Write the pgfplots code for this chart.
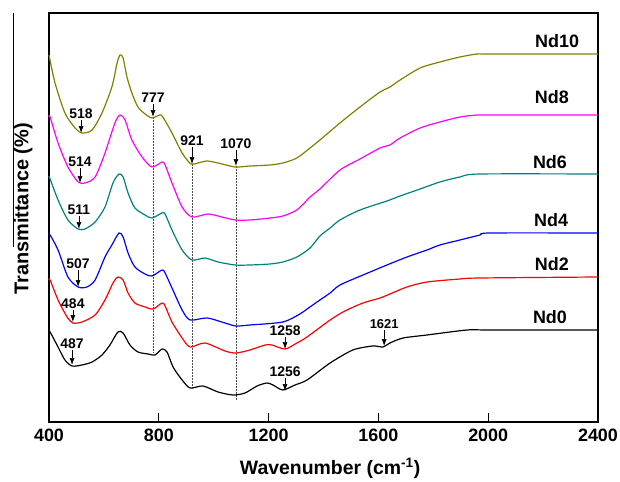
\documentclass[border=0pt]{standalone}
\usepackage{fontspec}
\setmainfont{Liberation Sans}
\usepackage{pgfplots}
\pgfplotsset{compat=1.18}
\usetikzlibrary{arrows.meta}
\definecolor{cNd10}{HTML}{808000}
\definecolor{cNd8}{HTML}{FF00FF}
\definecolor{cNd6}{HTML}{008080}
\definecolor{cNd4}{HTML}{0000FF}
\definecolor{cNd2}{HTML}{FF0000}
\definecolor{cNd0}{HTML}{000000}
\tikzset{
  pk/.style={-{Latex[length=7pt,width=5pt]},line width=0.7pt},
  pklab/.style={font=\fontsize{14}{15}\selectfont\bfseries,anchor=south,inner sep=1pt},
  guide/.style={densely dotted,black!70,line width=0.5pt},
  ndlab/.style={font=\fontsize{18}{20}\selectfont\bfseries,anchor=center},
}
\begin{document}
\begin{tikzpicture}
\begin{axis}[
  scale only axis,width=549bp,height=409bp,
  xmin=400,xmax=2400,ymin=0,ymax=409,
  xtick={400,800,1200,1600,2000,2400},
  xtick pos=left,tick align=inside,
  major tick length=9bp,
  ytick=\empty,
  axis line style={line width=1.3pt},
  every tick/.style={black,line width=1.2pt},
  /pgf/number format/assume math mode=true,
  /pgf/number format/set thousands separator={},
  xticklabel style={font=\fontsize{18}{20}\selectfont\bfseries,yshift=-3bp},
  xlabel={Wavenumber (cm\textsuperscript{-1})},
  ylabel={Transmittance (\%)},
  xlabel style={font=\fontsize{19.5}{22}\selectfont\bfseries,at={(axis description cs:0.512,-0.113)},anchor=center},
  ylabel style={font=\fontsize{20}{22}\selectfont\bfseries,at={(axis description cs:-0.047,0.521)},anchor=center},
  clip=false,
  every axis plot/.append style={line width=1.2pt,smooth,tension=0.45},
]
% dotted guides
\draw[guide] (axis cs:779,305) -- (axis cs:779,70);
\draw[guide] (axis cs:921,258) -- (axis cs:921,35);
\draw[guide] (axis cs:1081,256) -- (axis cs:1081,22);

\addplot[cNd0] coordinates {(400,90)(404,90)(433,75)(458,62)(484,56)(520,57)(557,60)(593,67)(622,77)(651,90)(670,89)(695,77)(724,70)(761,68)(786,67)(812,73)(830,70)(852,55)(885,42)(914,34)(961,36)(1016,30)(1070,27)(1114,29)(1158,36)(1194,39)(1216,37)(1252,32)(1296,37)(1340,42)(1424,59)(1507,72)(1580,76)(1617,75)(1642,79)(1690,84)(1777,87)(1923,92)(2007,92)(2400,92)};
\addplot[cNd2] coordinates {(400,142)(404,142)(433,122)(466,105)(487,99)(520,100)(568,107)(604,122)(633,139)(651,145)(670,142)(688,129)(713,119)(750,115)(779,113)(812,119)(823,116)(848,100)(885,84)(914,75)(968,79)(1041,71)(1081,69)(1132,72)(1187,77)(1212,77)(1260,73)(1303,79)(1340,85)(1424,102)(1478,111)(1544,119)(1606,124)(1642,128)(1704,135)(1777,140)(1897,143)(1970,144)(2400,145)};
\addplot[cNd4] coordinates {(400,187)(404,187)(433,172)(469,145)(506,135)(538,135)(568,142)(604,165)(629,177)(655,189)(670,185)(688,169)(713,155)(750,148)(775,146)(812,152)(823,149)(848,134)(885,112)(914,102)(976,104)(1041,99)(1081,96)(1132,97)(1252,100)(1314,108)(1340,113)(1387,122)(1424,129)(1460,137)(1544,147)(1631,157)(1704,165)(1777,172)(1824,177)(1897,182)(1970,187)(2007,189)(2400,189)};
\addplot[cNd6] coordinates {(400,246)(433,222)(469,202)(506,193)(531,193)(568,200)(604,215)(633,239)(655,248)(670,245)(688,229)(713,214)(750,207)(775,204)(812,209)(823,208)(848,192)(885,172)(921,162)(968,164)(1016,160)(1078,157)(1132,157)(1205,158)(1252,160)(1303,165)(1351,174)(1387,186)(1424,194)(1460,202)(1533,212)(1631,221)(1679,226)(1752,233)(1824,240)(1897,245)(1970,248)(2400,248)};
\addplot[cNd8] coordinates {(400,305)(404,305)(433,279)(469,255)(506,240)(531,239)(568,245)(604,269)(640,299)(659,307)(677,302)(702,282)(739,265)(775,255)(812,260)(823,257)(848,239)(885,215)(921,205)(979,208)(1030,205)(1078,202)(1132,202)(1205,204)(1252,206)(1303,212)(1351,225)(1387,233)(1460,252)(1533,263)(1606,274)(1642,277)(1679,284)(1752,294)(1824,300)(1897,305)(1959,307)(2007,307)(2400,307)};
\addplot[cNd10] coordinates {(400,367)(422,339)(458,309)(495,294)(520,289)(557,292)(593,309)(629,335)(648,359)(659,367)(670,364)(684,345)(702,329)(724,315)(750,308)(775,304)(804,307)(815,305)(848,289)(885,269)(917,258)(943,259)(976,261)(1016,259)(1078,255)(1132,256)(1205,257)(1252,259)(1303,264)(1351,274)(1387,282)(1460,299)(1533,315)(1606,330)(1642,335)(1679,342)(1752,354)(1824,360)(1897,365)(1959,368)(2007,368)(2400,368)};

% peak markers
\draw[pk] (axis cs:517,302) node[pklab]{518} -- (axis cs:517,289);
\draw[pk] (axis cs:779,318) node[pklab]{777} -- (axis cs:779,305);
\draw[pk] (axis cs:921,275) node[pklab]{921} -- (axis cs:921,258);
\draw[pk] (axis cs:1081,272) node[pklab]{1070} -- (axis cs:1081,256);
\draw[pk] (axis cs:513,254) node[pklab]{514} -- (axis cs:513,239);
\draw[pk] (axis cs:509,206) node[pklab]{511} -- (axis cs:509,193);
\draw[pk] (axis cs:506,152) node[pklab]{507} -- (axis cs:506,135);
\draw[pk] (axis cs:487,112) node[pklab]{484} -- (axis cs:487,100);
\draw[pk] (axis cs:484,72) node[pklab]{487} -- (axis cs:484,57);
\draw[pk] (axis cs:1260,85) node[pklab]{1258} -- (axis cs:1260,73);
\draw[pk] (axis cs:1260,44) node[pklab]{1256} -- (axis cs:1260,31);
\draw[pk] (axis cs:1621,92) node[pklab,font=\fontsize{13}{14}\selectfont\bfseries]{1621} -- (axis cs:1621,76);

% sample names
\node[ndlab] at (axis cs:2251,381) {Nd10};
\node[ndlab] at (axis cs:2232,325) {Nd8};
\node[ndlab] at (axis cs:2225,260) {Nd6};
\node[ndlab] at (axis cs:2229,202) {Nd4};
\node[ndlab] at (axis cs:2232,158) {Nd2};
\node[ndlab] at (axis cs:2225,105) {Nd0};

% stray edge line seen in the scan
\draw[line width=0.8pt] ([xshift=-36bp]axis cs:400,409) -- ([xshift=-36bp]axis cs:400,175);
\end{axis}
\pgfresetboundingbox
\path ([xshift=-49bp,yshift=-60bp]current axis.south west) rectangle ([xshift=22bp,yshift=13bp]current axis.north east);
\end{tikzpicture}
\end{document}
